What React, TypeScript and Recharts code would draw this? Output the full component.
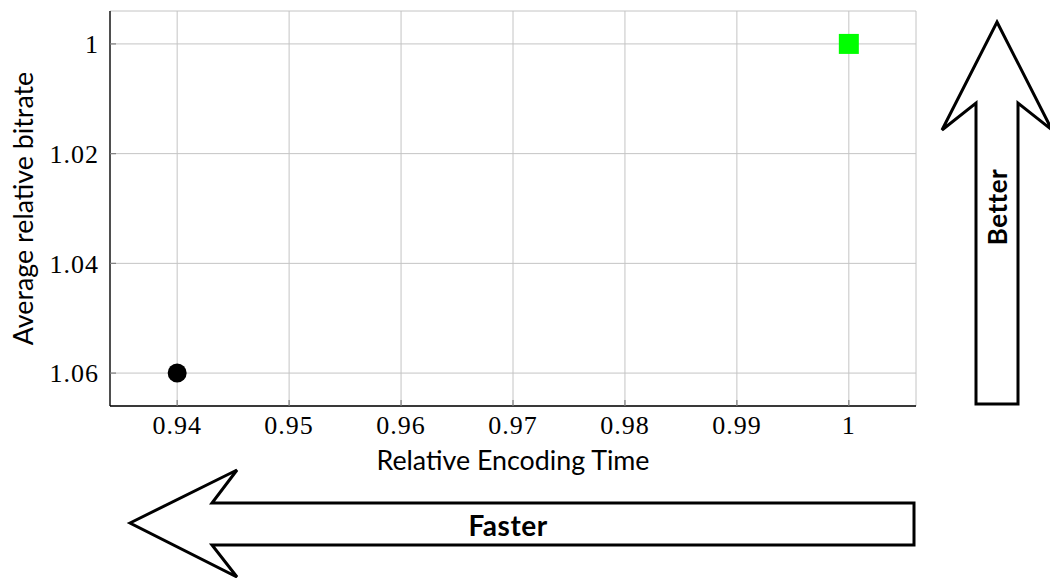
import React from 'react';
import { ComposedChart, Scatter, XAxis, YAxis, CartesianGrid, Label } from 'recharts';

const xTicks = [0.94, 0.95, 0.96, 0.97, 0.98, 0.99, 1];
const yTicks = [1, 1.02, 1.04, 1.06];
const xDomain = [0.934, 1.006];
const yDomain = [0.994, 1.066];
const circlePoints = [{ x: 0.94, y: 1.06 }];
const squarePoints = [{ x: 1, y: 1 }];
const xLabel = 'Relative Encoding Time';
const yLabel = 'Average relative bitrate';
const fasterText = 'Faster';
const betterText = 'Better';

const W = 1050;
const H = 578;
const tickFont = {
  fontFamily: '"Liberation Serif", "DejaVu Serif", serif',
  fontSize: 26,
  letterSpacing: 1,
  fill: '#000',
};
const labelFont = 'Lato, "Open Sans", sans-serif';

const CircleShape = (props: any) => <circle cx={props.cx} cy={props.cy} r={9.5} fill="#000" />;
const SquareShape = (props: any) => (
  <rect x={props.cx - 10} y={props.cy - 10} width={20} height={20} fill="#00ff00" />
);

const XLabelContent = (props: any) => {
  const vb = props.viewBox;
  return (
    <text x={vb.x + vb.width / 2} y={470} textAnchor="middle" fontFamily={labelFont} fontSize={26.8} fill="#000">
      {xLabel}
    </text>
  );
};

const YLabelContent = (props: any) => {
  const vb = props.viewBox;
  const cy = vb.y + vb.height / 2;
  const cx = 33;
  return (
    <text x={cx} y={cy} textAnchor="middle" transform={`rotate(-90 ${cx} ${cy})`} fontFamily={labelFont} fontSize={26.8} fill="#000">
      {yLabel}
    </text>
  );
};

const fmt = (v: number) => String(v);

export default function App() {
  return (
    <div style={{ position: 'absolute', left: 0, top: 0, width: W, height: H, background: '#fff' }}>
      <ComposedChart width={W} height={H} margin={{ top: 11, right: 134, bottom: 112, left: 10 }}>
        <CartesianGrid xAxisId="x" yAxisId="y" stroke="#c4c4c4" strokeWidth={1} />
        <XAxis
          xAxisId="x"
          type="number"
          dataKey="x"
          domain={xDomain}
          ticks={xTicks}
          allowDataOverflow
          orientation="bottom"
          height={60}
          tickSize={-6}
          tickMargin={16}
          tickFormatter={fmt}
          tick={tickFont}
          fontSize={26}
          tickLine={{ stroke: '#808080', strokeWidth: 1.2 }}
          axisLine={{ stroke: '#000', strokeWidth: 1.3 }}
        >
          <Label content={XLabelContent} />
        </XAxis>
        <XAxis
          xAxisId="xt"
          type="number"
          dataKey="x"
          domain={xDomain}
          ticks={xTicks}
          allowDataOverflow
          orientation="top"
          height={0}
          tickSize={-6}
          tick={false}
          tickLine={{ stroke: '#808080', strokeWidth: 1.2 }}
          axisLine={{ stroke: '#000', strokeWidth: 1.3 }}
        />
        <YAxis
          yAxisId="y"
          type="number"
          dataKey="y"
          domain={yDomain}
          ticks={yTicks}
          reversed
          allowDataOverflow
          orientation="left"
          width={100}
          tickSize={-6}
          tickMargin={17}
          tickFormatter={fmt}
          tick={tickFont}
          fontSize={26}
          tickLine={{ stroke: '#808080', strokeWidth: 1.2 }}
          axisLine={{ stroke: '#000', strokeWidth: 1.3 }}
        >
          <Label content={YLabelContent} />
        </YAxis>
        <YAxis
          yAxisId="yr"
          type="number"
          dataKey="y"
          domain={yDomain}
          ticks={yTicks}
          reversed
          allowDataOverflow
          orientation="right"
          width={0}
          tickSize={-6}
          tick={false}
          tickLine={{ stroke: '#808080', strokeWidth: 1.2 }}
          axisLine={{ stroke: '#000', strokeWidth: 1.3 }}
        />
        <Scatter data={circlePoints} xAxisId="x" yAxisId="y" shape={CircleShape} isAnimationActive={false} />
        <Scatter data={squarePoints} xAxisId="x" yAxisId="y" shape={SquareShape} isAnimationActive={false} />
      </ComposedChart>
      <svg width={W} height={H} style={{ position: 'absolute', left: 0, top: 0, pointerEvents: 'none' }}>
        <polygon
          points="997,22 1052,130 1018,103 1018,404 976,404 976,103 942,130"
          fill="#fff"
          stroke="#000"
          strokeWidth={3}
          strokeLinejoin="miter"
        />
        <text
          x={997}
          y={207}
          textAnchor="middle"
          dominantBaseline="central"
          transform="rotate(-90 997 207)"
          fontFamily={labelFont}
          fontWeight="bold"
          fontSize={26}
          letterSpacing={0.5}
          fill="#000"
        >
          {betterText}
        </text>
        <polygon
          points="130,523 237,470 212,503 914,503 914,545 212,545 237,577"
          fill="#fff"
          stroke="#000"
          strokeWidth={3}
          strokeLinejoin="miter"
        />
        <text
          x={508}
          y={525}
          textAnchor="middle"
          dominantBaseline="central"
          fontFamily={labelFont}
          fontWeight="bold"
          fontSize={28}
          letterSpacing={0.5}
          fill="#000"
        >
          {fasterText}
        </text>
      </svg>
    </div>
  );
}
